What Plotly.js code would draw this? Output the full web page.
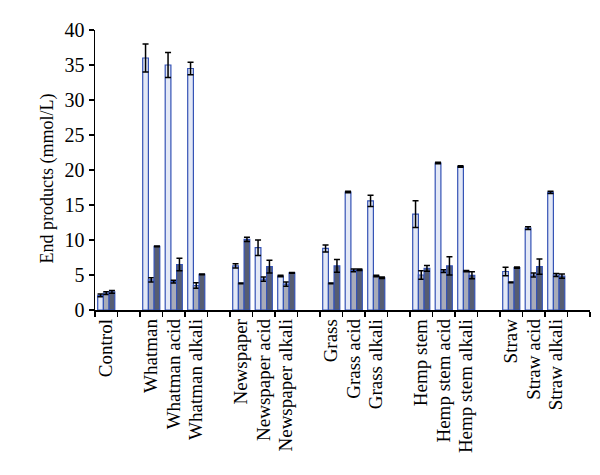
<!DOCTYPE html>
<html>
<head>
<meta charset="utf-8">
<script src="https://cdn.plot.ly/plotly-3.0.1.min.js"></script>
<style>body{margin:0;background:#fff}#chart{width:600px;height:475px}</style>
</head>
<body>
<div id="chart"></div>
<script>
// Category slots (blank slots separate the groups)
const categories = ["Control", "\u200b",
  "Whatman", "Whatman acid", "Whatman alkali", "\u200b\u200b",
  "Newspaper", "Newspaper acid", "Newspaper alkali", "\u200b\u200b\u200b",
  "Grass", "Grass acid", "Grass alkali", "\u200b\u200b\u200b\u200b",
  "Hemp stem", "Hemp stem acid", "Hemp stem alkali", "\u200b\u200b\u200b\u200b\u200b",
  "Straw", "Straw acid", "Straw alkali", "\u200b\u200b\u200b\u200b\u200b\u200b"];

const series1 = [2.1, null, 36.0, 35.0, 34.5, null, 6.3, 8.9, 4.85, null, 8.8, 16.85, 15.6, null, 13.7, 21.0, 20.5, null, 5.5, 11.7, 16.8, null];
const err1    = [0.2, null, 2.0, 1.8, 0.9, null, 0.3, 1.1, 0.1, null, 0.5, 0.1, 0.8, null, 1.9, 0.1, 0.1, null, 0.6, 0.2, 0.15, null];
const series2 = [2.4, null, 4.3, 4.05, 3.5, null, 3.8, 4.4, 3.7, null, 3.8, 5.65, 4.85, null, 5.0, 5.55, 5.55, null, 3.95, 5.0, 5.0, null];
const err2    = [0.2, null, 0.3, 0.2, 0.4, null, 0.05, 0.3, 0.3, null, 0.05, 0.2, 0.1, null, 0.6, 0.2, 0.1, null, 0.05, 0.3, 0.2, null];
const series3 = [2.6, null, 9.1, 6.5, 5.1, null, 10.1, 6.2, 5.3, null, 6.3, 5.75, 4.6, null, 5.95, 6.3, 4.95, null, 6.05, 6.2, 4.85, null];
const err3    = [0.2, null, 0.05, 0.9, 0.05, null, 0.3, 0.9, 0.05, null, 0.9, 0.1, 0.1, null, 0.4, 1.3, 0.5, null, 0.1, 1.1, 0.3, null];

function mk(y, e, fill, name) {
  return {
    type: 'bar', x: categories, y: y, name: name,
    marker: {color: fill, line: {color: '#3553b5', width: 1.2}},
    error_y: {type: 'data', array: e, visible: true, color: '#000', thickness: 1.5, width: 3}
  };
}
const data = [
  mk(series1, err1, '#e3e8f6', 'S1'),
  mk(series2, err2, '#a8abb8', 'S2'),
  mk(series3, err3, '#565d72', 'S3')
];
const serif = 'Liberation Serif, Times New Roman, serif';
const layout = {
  width: 600, height: 475,
  margin: {l: 95, r: 10, t: 30, b: 165},
  paper_bgcolor: '#fff', plot_bgcolor: '#fff',
  showlegend: false,
  barmode: 'group', bargap: 0.24, bargroupgap: 0,
  font: {family: serif, color: '#000', size: 19},
  xaxis: {
    type: 'category', range: [-0.5, 21.5],
    tickmode: 'linear', tick0: 0, dtick: 1,
    tickson: 'boundaries', ticks: 'outside', ticklen: 5, tickcolor: '#000', tickwidth: 1.5,
    showline: true, linecolor: '#000', linewidth: 1.5,
    tickangle: -90, tickfont: {family: serif, size: 19, color: '#000'},
    showgrid: false, zeroline: false, automargin: false
  },
  yaxis: {
    range: [0, 40], dtick: 5, ticks: 'outside', ticklen: 5, tickcolor: '#000', tickwidth: 1.5,
    showline: true, linecolor: '#000', linewidth: 1.5,
    showgrid: false, zeroline: false, automargin: false,
    tickfont: {family: serif, size: 20, color: '#000'}
  },
  annotations: [{
    text: 'End products (mmol/L)', textangle: -90, showarrow: false,
    xref: 'paper', yref: 'paper', x: -0.097, y: 0.47, xanchor: 'center', yanchor: 'middle',
    font: {family: serif, size: 18, color: '#000'}
  }]
};
Plotly.newPlot('chart', data, layout, {displayModeBar: false, staticPlot: true});
</script>
</body>
</html>
